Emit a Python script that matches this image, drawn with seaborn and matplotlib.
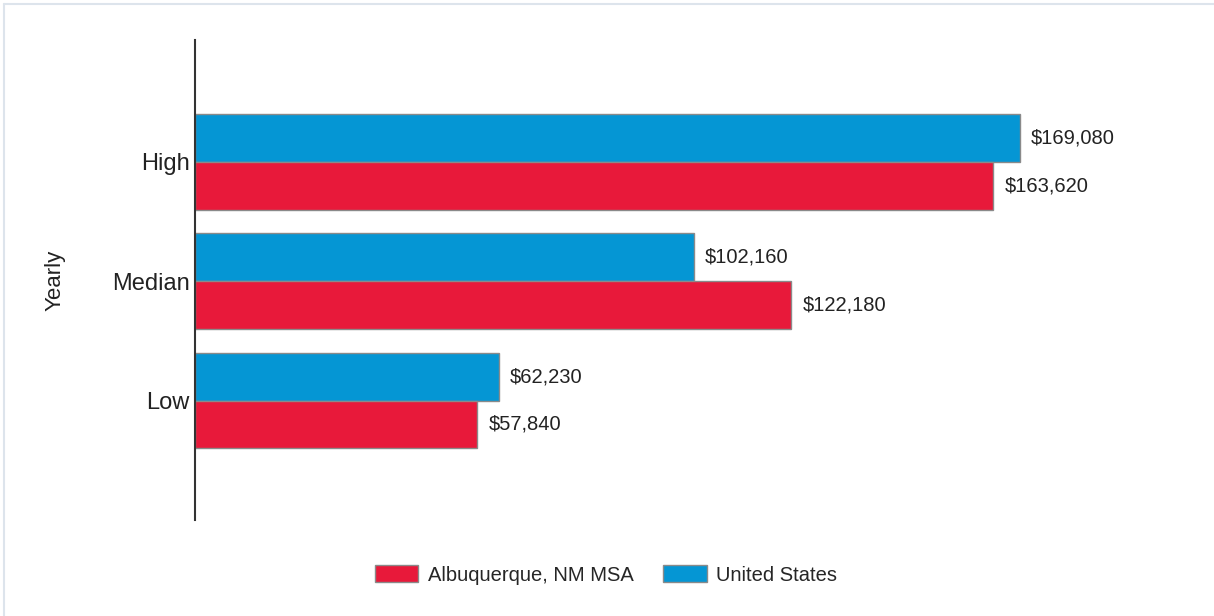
import matplotlib
matplotlib.use("Agg")
import matplotlib.pyplot as plt
import seaborn as sns
import pandas as pd
from matplotlib.patches import Patch
from matplotlib.lines import Line2D

levels = ["High", "Median", "Low"]
albuquerque = [163620, 122180, 57840]
united_states = [169080, 102160, 62230]
series_names = ["Albuquerque, NM MSA", "United States"]
red = "#e8193a"
blue = "#0596d4"

rows = []
for lvl, a, u in zip(levels, albuquerque, united_states):
    rows.append([lvl, series_names[0], a])
    rows.append([lvl, series_names[1], u])
df = pd.DataFrame(rows, columns=["Level", "Series", "Value"])

sns.set_style("white")
plt.rcParams["font.family"] = ["Liberation Sans", "DejaVu Sans"]

W, H = 1214, 616
fig = plt.figure(figsize=(W / 100, H / 100), dpi=100)
ax = fig.add_axes([195 / W, 1 - 520 / H, 976 / W, 480 / H])

sns.barplot(
    data=df, y="Level", x="Value", hue="Series",
    order=levels, hue_order=[series_names[1], series_names[0]],
    palette=[blue, red], orient="h", width=0.8,
    edgecolor="#8a8a8a", linewidth=1, saturation=1,
    legend=False, ax=ax,
)

for cont in ax.containers:
    ax.bar_label(cont, fmt="${:,.0f}", padding=8, fontsize=14.5, color="#222222")

ax.set_xlim(0, 200000)
ax.set_ylim(3.0, -1.02)
ax.set_xlabel("")
ax.set_xticks([])
ax.set_ylabel("Yearly", fontsize=16, color="#222222")
ax.yaxis.set_label_coords(-0.133, 0.5)
ax.tick_params(axis="y", length=0, pad=4, labelsize=17, labelcolor="#222222")
for side in ["top", "right", "bottom"]:
    ax.spines[side].set_visible(False)
ax.spines["left"].set_color("#333333")
ax.spines["left"].set_linewidth(1.5)

handles = [Patch(facecolor=red, edgecolor="#8a8a8a"),
           Patch(facecolor=blue, edgecolor="#8a8a8a")]
fig.legend(
    handles, series_names, loc="center", bbox_to_anchor=(606 / W, 1 - 575 / H),
    ncol=2, frameon=False, fontsize=14.5, handlelength=2.15, handleheight=0.85,
    handletextpad=0.45, columnspacing=1.5, borderpad=0,
)

# light frame on the top and left edges
fig.add_artist(Line2D([3.5 / W, 1], [1 - 3.5 / H, 1 - 3.5 / H],
                      transform=fig.transFigure, color="#dde4ec", lw=1.5))
fig.add_artist(Line2D([3.5 / W, 3.5 / W], [0, 1 - 3.5 / H],
                      transform=fig.transFigure, color="#dde4ec", lw=1.5))

fig.savefig("out.png", dpi=100, facecolor="white")
